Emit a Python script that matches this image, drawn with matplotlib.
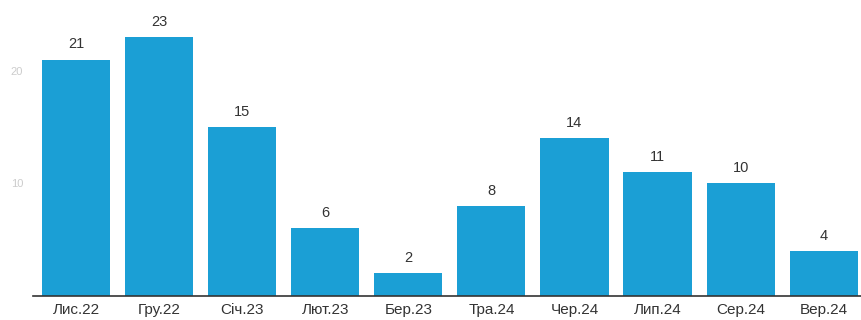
import matplotlib
matplotlib.use("Agg")
import matplotlib.pyplot as plt

months = ["Лис.22", "Гру.22", "Січ.23", "Лют.23", "Бер.23",
          "Тра.24", "Чер.24", "Лип.24", "Сер.24", "Вер.24"]
counts = [21, 23, 15, 6, 2, 8, 14, 11, 10, 4]
y_ticks = [10, 20]

plt.rcParams["font.family"] = ["Liberation Sans", "DejaVu Sans"]

fig = plt.figure(figsize=(8.61, 3.2), dpi=100)
ax = fig.add_axes([33 / 861, 24 / 320, 1 - 33 / 861, 1 - 24 / 320])

x = list(range(len(months)))
bars = ax.bar(x, counts, width=0.82, color="#1b9fd5")

for xi, v in zip(x, counts):
    ax.text(xi, v + 0.75, str(v), ha="center", va="bottom",
            fontsize=10.5, color="#333333")

ax.set_xlim(-0.52, 9.45)
ax.set_ylim(0, 26.3)
ax.set_xticks(x)
ax.set_xticklabels(months, fontsize=11, color="#333333")
ax.tick_params(axis="x", length=0, pad=5)
ax.set_yticks(y_ticks)
ax.set_yticklabels([str(t) for t in y_ticks], fontsize=8, color="#cccccc")
ax.tick_params(axis="y", length=0, pad=7)

for side in ["top", "right", "left"]:
    ax.spines[side].set_visible(False)
ax.spines["bottom"].set_color("#333333")
ax.spines["bottom"].set_linewidth(1.2)

fig.savefig("out.png", dpi=100)
